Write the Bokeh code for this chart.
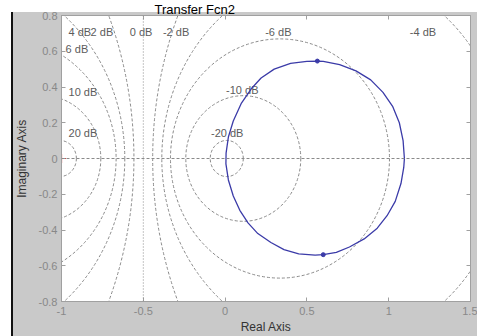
import numpy as np
from bokeh.plotting import figure
from bokeh.models import (FixedTicker, LinearAxis, Span, ColumnDataSource, Range1d, Title)
from bokeh.core.properties import value
from bokeh.embed import file_html
from bokeh.resources import INLINE

# ---------------- data ----------------
title_text = "Transfer Fcn2"
x_label = "Real Axis"
y_label = "Imaginary Axis"

x_ticks = [-1, -0.5, 0, 0.5, 1, 1.5]
x_tick_labels = ["-1", "-0.5", "0", "0.5", "1", "1.5"]
y_ticks = [-0.8, -0.6, -0.4, -0.2, 0, 0.2, 0.4, 0.6, 0.8]
y_tick_labels = ["-0.8", "-0.6", "-0.4", "-0.2", "0", "0.2", "0.4", "0.6", "0.8"]

# Nyquist curve
nyq_re = [1.096, 1.088, 1.065, 1.025, 0.965, 0.89, 0.80, 0.70, 0.60, 0.564, 0.50,
          0.40, 0.30, 0.22, 0.16, 0.10, 0.05, 0.02, 0.006, 0.005,
          0.02, 0.05, 0.09, 0.14, 0.20, 0.28, 0.36, 0.45, 0.55, 0.60, 0.68,
          0.76, 0.85, 0.93, 0.99, 1.04, 1.075, 1.092, 1.096]
nyq_im = [0.0, 0.10, 0.20, 0.29, 0.37, 0.44, 0.49, 0.525, 0.543, 0.545, 0.543,
          0.532, 0.50, 0.45, 0.39, 0.31, 0.21, 0.12, 0.03, -0.03,
          -0.12, -0.21, -0.29, -0.36, -0.42, -0.47, -0.51, -0.533, -0.54, -0.538, -0.525,
          -0.495, -0.45, -0.39, -0.32, -0.24, -0.14, -0.05, 0.0]

# direction markers on the curve
arrow_re = [0.564, 0.60]
arrow_im = [0.545, -0.538]

# critical point
crit_re = [-1]
crit_im = [0]

# constant closed-loop magnitude contours (dB)
m_db = [20, 10, 6, 4, 2, -2, -4, -6, -10, -20]
zero_db_re = -0.5

grid_label_text = ["4 dB", "2 dB", "0 dB", "-2 dB", "6 dB", "10 dB", "20 dB",
                   "-10 dB", "-20 dB", "-6 dB", "-4 dB"]
grid_label_re = [-0.957, -0.822, -0.583, -0.380, -0.975, -0.957, -0.957,
                 0.006, -0.086, 0.245, 1.129]
grid_label_im = [0.709, 0.709, 0.709, 0.709, 0.615, 0.374, 0.145,
                 0.385, 0.145, 0.709, 0.709]

# ---------------- styles ----------------
FONT = "Liberation Sans"
GRAY_BG = "#c9c9c9"
FRAME = "#a0a0a0"
TICK_TXT = "#888888"
GRID = "#8a8a8a"
BLUE = "#3b3ba8"

p = figure(width=477, height=336,
           x_range=Range1d(-1, 1.5), y_range=Range1d(-0.8, 0.8),
           output_backend="svg", toolbar_location=None,
           min_border_left=61, min_border_right=7, min_border_top=14, min_border_bottom=35,
           border_fill_color=None, background_fill_color="white",
           outline_line_color=FRAME)
# window look: white strip on top and left, dark left edge, gray panel
p.styles = {
    "background": ("linear-gradient(to bottom, white 0px, white 12px, transparent 12px), "
                   "linear-gradient(to right, white 0px, white 11px, #111111 11px, "
                   "#111111 13px, transparent 13px), " + GRAY_BG)
}
p.grid.visible = False

p.title = Title(text=title_text, align="left", offset=93, standoff=-2,
                text_font=FONT, text_font_size="13px", text_font_style="normal",
                text_color="black")

x_over = {t: l for t, l in zip(x_ticks, x_tick_labels)}
y_over = {t: l for t, l in zip(y_ticks, y_tick_labels)}

for ax in p.xaxis:
    ax.ticker = FixedTicker(ticks=x_ticks)
    ax.major_label_overrides = x_over
    ax.axis_label = x_label
for ax in p.yaxis:
    ax.ticker = FixedTicker(ticks=y_ticks)
    ax.major_label_overrides = y_over
    ax.axis_label = y_label

def style_axis(ax, show_labels=True):
    ax.axis_line_color = FRAME
    ax.major_tick_line_color = FRAME
    ax.major_tick_in = 4
    ax.major_tick_out = 0
    ax.minor_tick_line_color = None
    ax.major_label_text_font = FONT
    ax.major_label_text_color = TICK_TXT
    if show_labels:
        ax.major_label_text_font_size = "11px"
    else:
        ax.major_label_text_font_size = "0px"
        ax.major_label_standoff = 0

for ax in p.xaxis:
    style_axis(ax)
    ax.major_label_standoff = 5
    ax.axis_label_standoff = 2
for ax in p.yaxis:
    style_axis(ax)
    ax.major_label_standoff = 4
    ax.axis_label_standoff = 7
for ax in list(p.xaxis) + list(p.yaxis):
    ax.axis_label_text_font = FONT
    ax.axis_label_text_font_size = "12px"
    ax.axis_label_text_font_style = "normal"
    ax.axis_label_text_color = "#333333"

top_ax = LinearAxis(ticker=FixedTicker(ticks=x_ticks), major_label_overrides={t: "" for t in x_ticks})
right_ax = LinearAxis(ticker=FixedTicker(ticks=y_ticks), major_label_overrides={t: "" for t in y_ticks})
style_axis(top_ax, show_labels=False)
style_axis(right_ax, show_labels=False)
p.add_layout(top_ax, "above")
p.add_layout(right_ax, "right")

# M-circles
M = 10 ** (np.array(m_db) / 20.0)
cx = -M ** 2 / (M ** 2 - 1)
rad = np.abs(M / (M ** 2 - 1))
circ = ColumnDataSource(dict(x=cx, y=np.zeros_like(cx), w=2 * rad, h=2 * rad))
p.ellipse(x="x", y="y", width="w", height="h", source=circ,
          fill_color=None, line_color=GRID, line_width=1, line_dash="3 2")
p.add_layout(Span(location=zero_db_re, dimension="height", line_color=GRID,
                  line_width=1, line_dash="1 2"))
p.add_layout(Span(location=0, dimension="width", line_color=GRID,
                  line_width=1, line_dash="3 2"))

p.text(x=grid_label_re, y=grid_label_im, text=grid_label_text,
       text_font=value(FONT), text_font_size="11px", text_color="#5c5c5c",
       text_align="left", text_baseline="middle")

# Nyquist curve
p.line(nyq_re, nyq_im, line_color=BLUE, line_width=1.3)
p.scatter(arrow_re, arrow_im, size=4, color=BLUE)
p.scatter(crit_re, crit_im, marker="cross", size=9, line_color="red", line_width=1.2)

open("out.html", "w").write(file_html(p, INLINE))
